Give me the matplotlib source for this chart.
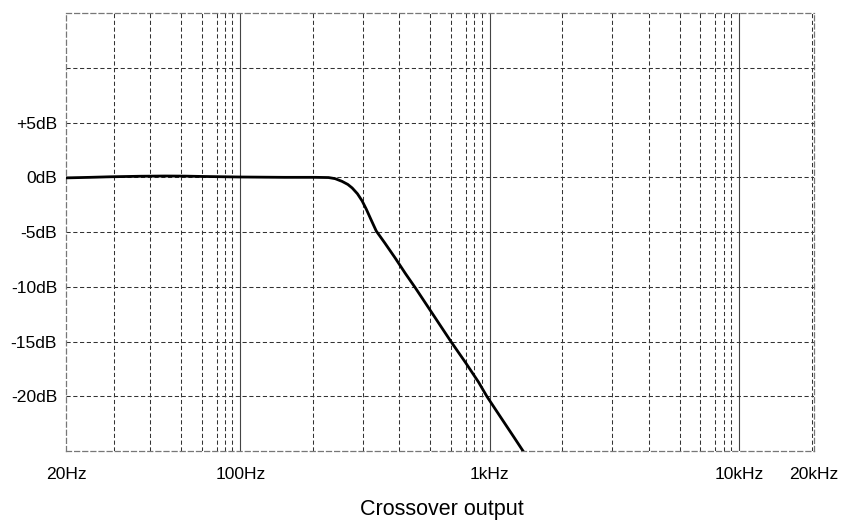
import numpy as np
from matplotlib import pyplot as plt

# frequency response (Hz, dB)
freq_hz = [20, 25, 30, 40, 50, 60, 70, 100, 150, 200, 226, 240, 256, 270, 281,
           295, 308, 320, 335, 351, 380, 419, 460, 504, 600, 700, 800, 903,
           975, 1100, 1250, 1400]
gain_db = [-0.05, 0.0, 0.05, 0.1, 0.12, 0.11, 0.08, 0.03, 0.0, 0.0, -0.02,
           -0.12, -0.37, -0.65, -0.97, -1.5, -2.15, -2.9, -3.9, -4.9, -6.0,
           -7.4, -8.8, -10.1, -12.7, -15.0, -16.9, -18.7, -20.0, -21.8,
           -23.7, -25.4]

x_ticks = [20, 100, 1000, 10000, 20000]
x_tick_labels = ['20Hz', '100Hz', '1kHz', '10kHz', '20kHz']
y_ticks = [5, 0, -5, -10, -15, -20]
y_tick_labels = ['+5dB', '0dB', '-5dB', '-10dB', '-15dB', '-20dB']
y_grid = [10, 5, 0, -5, -10, -15, -20]

decades = [10, 100, 1000, 10000]
# the minor grid in the reference is not at the usual 2..9 multiples
grid_mult = [1.96, 3.1, 4.34, 5.78, 7.0, 8.03, 8.69, 9.29]

plt.rcParams['font.family'] = ['Liberation Sans', 'DejaVu Sans']

fig = plt.figure(figsize=(8.47, 5.21), dpi=100)
ax = fig.add_axes([0.078, 0.134, 0.883, 0.841])

ax.set_xscale('log')
ax.set_xlim(20, 20000)
ax.set_ylim(-25, 15)

dash = (0, (4, 2.5))
grid_kw = dict(color='#333333', lw=0.75, linestyle=dash, zorder=1)

for d in decades:
    for m in grid_mult:
        f = d * m
        if 20 < f < 20000:
            ax.axvline(f, **grid_kw)
    if 20 < d < 20000:
        ax.axvline(d, color='#444444', lw=0.8, zorder=1)

for y in y_grid:
    ax.axhline(y, **grid_kw)

for side in ['top', 'bottom', 'left', 'right']:
    ax.spines[side].set_linestyle(dash)
    ax.spines[side].set_color('#777777')
    ax.spines[side].set_linewidth(0.9)

ax.plot(freq_hz, gain_db, color='black', lw=2.0, zorder=3,
        solid_capstyle='round', solid_joinstyle='round')

ax.set_xticks(x_ticks)
ax.set_xticklabels(x_tick_labels)
ax.xaxis.set_minor_locator(plt.NullLocator())
ax.set_yticks(y_ticks)
ax.set_yticklabels(y_tick_labels)
ax.tick_params(length=0, labelsize=12.6, colors='black')
ax.tick_params(axis='x', pad=11.5)
ax.tick_params(axis='y', pad=6.5)

fig.text(442 / 847, 1 - 510 / 521, 'Crossover output', fontsize=15.5,
         ha='center', va='center')

fig.savefig('out.png', dpi=100)
